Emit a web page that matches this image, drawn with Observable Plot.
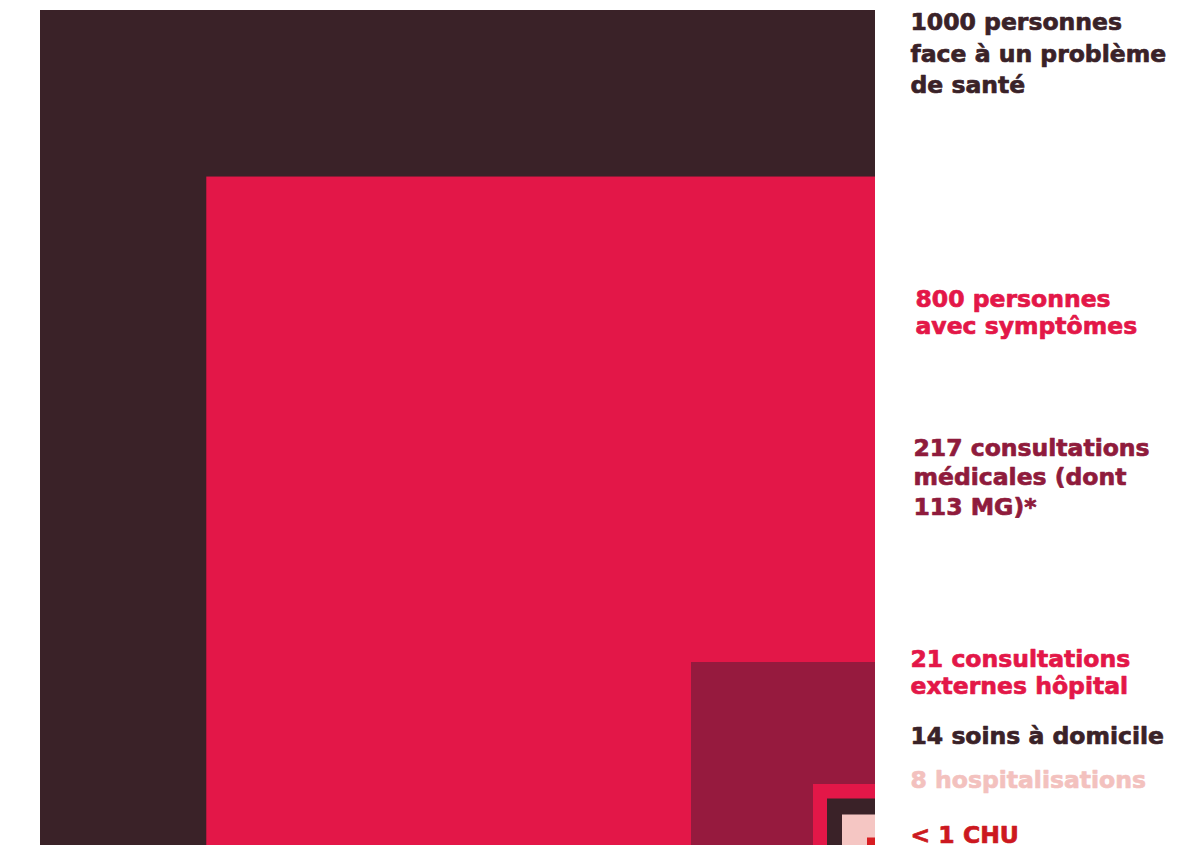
<!DOCTYPE html>
<html>
<head>
<meta charset="utf-8">
<script src="https://cdn.jsdelivr.net/npm/d3@7"></script>
<script src="https://cdn.jsdelivr.net/npm/@observablehq/plot@0.6"></script>
<style>
  html, body { margin: 0; padding: 0; background: #ffffff; overflow: hidden; }
  #chart svg { display: block; }
</style>
</head>
<body>
<div id="chart"></div>
<script>
// ---- Data ----
const categories = [
  "Problème de santé",
  "Avec symptômes",
  "Consultations médicales",
  "Consultations externes hôpital",
  "Soins à domicile",
  "Hospitalisations",
  "CHU"
];
const values = [1000, 800, 217, 21, 14, 8, 1];
const labels = [
  "1000 personnes\nface à un problème\nde santé",
  "800 personnes\navec symptômes",
  "217 consultations\nmédicales (dont\n113 MG)*",
  "21 consultations\nexternes hôpital",
  "14 soins à domicile",
  "8 hospitalisations",
  "< 1 CHU"
];

// ---- Styles ----
const squareColors = ["#3a2228", "#e31748", "#961a3e", "#e31748", "#3a2228", "#f5c6c3", "#d81d22"];
const labelColors  = ["#3a2228", "#e31748", "#8f1b3c", "#e31748", "#3a2228", "#f3c1be", "#cc1820"];
// label layout: first baseline (px), line spacing (px), horizontal offset from squares
const labelBaselines = [30, 306, 455, 666, 743.3, 787.7, 842.3];
const labelLineGap   = [31.5, 28, 30, 27.5, 28, 28, 28];
const labelDx        = [35, 40, 38, 35, 35, 35, 35];
const fontSize = 23.5;

// The original chart is not drawn to scale for the smallest squares:
// the side uses a piecewise-linear scale with these breakpoints.
const breaks = [1000, 217, 21, 14, 8, 1, 0];

const table = categories.map((c, i) => ({category: c, value: values[i], label: labels[i]}));

const fontFamily = "'DejaVu Sans', sans-serif";

const chart = Plot.plot({
  width: 1203,
  height: 845,
  marginTop: 0, marginRight: 0, marginBottom: 0, marginLeft: 0,
  x: {type: "linear", domain: breaks, range: [40, 691, 813, 827, 842, 867, 875], axis: null},
  y: {type: "linear", domain: breaks, range: [10, 662, 784, 798.5, 814.5, 837.5, 845], axis: null},
  color: {type: "identity"},
  marks: [
    Plot.rect(table, {
      x1: "value", x2: 0,
      y1: "value", y2: 0,
      fill: (d, i) => squareColors[i]
    }),
    ...table.map((d, i) => {
      const lh = labelLineGap[i] / fontSize;
      return Plot.text([d], {
        x: 0,
        frameAnchor: "top",
        dx: labelDx[i],
        dy: labelBaselines[i] - 0.71 * labelLineGap[i],
        text: "label",
        textAnchor: "start",
        lineAnchor: "top",
        lineHeight: lh,
        fill: labelColors[i],
        stroke: labelColors[i],
        strokeWidth: 0.7,
        fontSize,
        fontWeight: "bold",
        fontFamily
      });
    })
  ]
});
document.getElementById("chart").appendChild(chart);
</script>
</body>
</html>
